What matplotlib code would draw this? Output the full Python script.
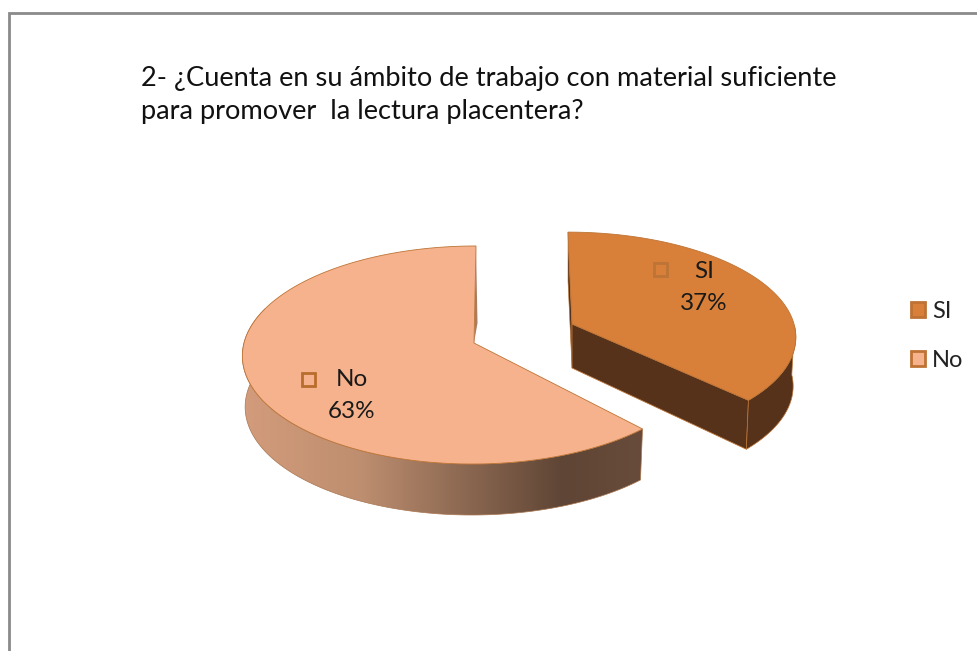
import numpy as np
import matplotlib
matplotlib.use('Agg')
import matplotlib.pyplot as plt
from matplotlib.patches import Polygon, Patch, Rectangle
from matplotlib.colors import LinearSegmentedColormap

plt.rcParams['font.family'] = ['Lato', 'DejaVu Sans']

# Data
categories = ['SI', 'No']
values = [37, 63]
title = '2- ¿Cuenta en su ámbito de trabajo con material suficiente\npara promover  la lectura placentera?'

# Look of each slice, same order as categories
top_colors = ['#d8803a', '#f6b28c']
edge_color = '#bd7436'
apex = [(572, 324), (474, 343)]
radius_x = [222, 230]
radius_y = [102, 107.7]
depth = [49, 51]
shear = [-4, 2]
boundary_nudge = [-0.5, -4.0]  # the 3D view does not keep the shared edge at the same angle

TILT = 0.11
BOTTOM_SHRINK = 0.988

wall_cmap = LinearSegmentedColormap.from_list(
    'wall', [(0, '#d39c7c'), (0.3, '#bd8e6f'), (0.5, '#967058'), (0.8, '#5f4535'), (1, '#684b3b')])


def project(theta, i, lower=False):
    # circle -> screen, with a bit of perspective (far side is squeezed)
    t = np.radians(theta)
    u, v = np.cos(t), np.sin(t)
    w = 1 + TILT * v
    scale = BOTTOM_SHRINK if lower else 1.0
    x = apex[i][0] + scale * radius_x[i] * u / w + shear[i] * v
    y = apex[i][1] - radius_y[i] * v / w + (depth[i] if lower else 0)
    return x, y


fig = plt.figure(figsize=(9.77, 6.51), dpi=100)
ax = fig.add_axes([0, 0, 1, 1])
ax.axis('off')

# Chart frame
ax.plot([9, 9, 977], [651, 13, 13], color='#8a8a8a', lw=2, solid_joinstyle='miter')

# Slice angles, clockwise from 12 o'clock
shares = np.array(values) / sum(values)
bounds = 90 - 360 * np.concatenate([[0], np.cumsum(shares)])

# --- SI slice ---
th = np.linspace(bounds[1] + boundary_nudge[0], bounds[0], 120)
x, y = project(th, 0)
xb, yb = project(th, 0, True)
ax_i, ay_i = apex[0]
dark = '#57321a'
# far cut face (thin sliver on the left)
ax.add_patch(Polygon([(x[-1], y[-1]), (ax_i, ay_i), (ax_i, ay_i + 44), (xb[-1], yb[-1])],
                     fc=dark, ec=edge_color, lw=0.4))
# front cut face
ax.add_patch(Polygon([(ax_i, ay_i), (x[0], y[0]), (xb[0], yb[0]), (ax_i, ay_i + 44)],
                     fc=dark, ec=edge_color, lw=0.6))
# outer wall, only the part facing us
vis = th <= 0
ax.add_patch(Polygon(np.r_[np.c_[x[vis], y[vis]], np.c_[xb[vis], yb[vis]][::-1]],
                     fc=dark, ec=edge_color, lw=0.5))
ax.add_patch(Polygon(np.r_[[(ax_i, ay_i)], np.c_[x, y]], fc=top_colors[0], ec=edge_color, lw=0.6))

# --- No slice ---
th = np.linspace(bounds[2], bounds[1] + boundary_nudge[1], 240)
x, y = project(th, 1)
xb, yb = project(th, 1, True)
ax_i, ay_i = apex[1]
# sliver of the cut face at the top
ax.add_patch(Polygon([(x[0], y[0]), (ax_i, ay_i), (x[0] + 1.5, ay_i - 20)], fc='#a87c60', ec='none'))
# outer wall with the horizontal shading, starts past the left end so the top face hides its start
vis = th >= -200
wx, wy, wxb, wyb = x[vis], y[vis], xb[vis], yb[vis]
wall = Polygon(np.r_[np.c_[wx, wy], np.c_[wxb, wyb][::-1]], fc='none', ec='#a9764f', lw=0.5)
ax.add_patch(wall)
ax.imshow(np.linspace(0, 1, 256).reshape(1, -1), extent=(wx.min(), wx.max(), wyb.max(), wy.min()),
          aspect='auto', cmap=wall_cmap, clip_path=wall, zorder=0.5)
ax.add_patch(Polygon(np.r_[[(ax_i, ay_i)], np.c_[x, y]], fc=top_colors[1], ec=edge_color, lw=0.6))

# Data labels with their little key squares
label_pos = [(704, 271), (352, 380)]
key_pos = [(660, 269), (308, 379)]
key_edge = ['#bd7436', '#b96d2c']
for i, cat in enumerate(categories):
    lx, ly = label_pos[i]
    ax.text(lx, ly, cat, fontsize=17.5, color='#1a1a1a', ha='center', va='center')
    ax.text(lx, ly + 32, f'{values[i]}%', fontsize=17.5, color='#1a1a1a', ha='center', va='center')
    kx, ky = key_pos[i]
    ax.add_patch(Rectangle((kx - 6.5, ky - 6.5), 13, 13, fc='none', ec=key_edge[i], lw=2))

# Title
ax.text(141, 95, title, fontsize=19.65, color='#111111', ha='left', va='center', linespacing=1.4)

# Legend
handles = [Patch(fc=c, ec='#bf7234', lw=2) for c in top_colors]
ax.legend(handles, categories, loc='center left', bbox_to_anchor=(911, 336),
          bbox_transform=ax.transData, frameon=False, fontsize=17, labelcolor='#222222',
          handlelength=0.6, handleheight=0.6, handletextpad=0.3, labelspacing=1.2,
          borderpad=0, borderaxespad=0)

ax.set_xlim(0, 977)
ax.set_ylim(651, 0)

fig.savefig('out.png', dpi=100)
